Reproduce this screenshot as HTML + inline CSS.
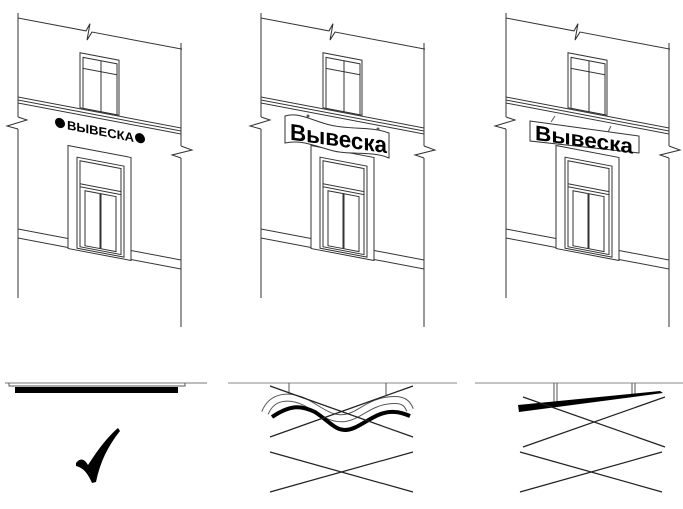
<!DOCTYPE html>
<html><head><meta charset="utf-8"><style>
html,body{margin:0;padding:0;background:#fff;width:683px;height:509px;overflow:hidden}
svg{display:block}
text{font-family:"Liberation Sans","DejaVu Sans",sans-serif}
</style></head><body>
<svg width="683" height="509" viewBox="0 0 683 509" xmlns="http://www.w3.org/2000/svg">
<defs>
<g id="bld" fill="none" stroke="#333" stroke-width="1">
  <line x1="18" y1="13" x2="18" y2="117"/>
  <polyline points="18,117 27,120 7,126 18,129"/>
  <line x1="18" y1="129" x2="18" y2="298"/>
  <line x1="181" y1="43" x2="181" y2="146"/>
  <polyline points="181,146 192,150 172,155 181,158"/>
  <line x1="181" y1="158" x2="181" y2="327"/>
  <g transform="matrix(1,0.19,0,1,0,-3.42)">
    <polyline points="18,18 86,18 90,10 87,27 92,18 182,18"/>
    <rect x="80" y="41" width="39" height="55"/>
    <rect x="83" y="45" width="34" height="51"/>
    <line x1="101" y1="45" x2="101" y2="96"/>
    <line x1="83" y1="56" x2="117" y2="56"/>
    <line x1="18" y1="97" x2="181" y2="97"/>
    <line x1="18" y1="100" x2="181" y2="100"/>
    <line x1="18" y1="103" x2="181" y2="103"/>
    <rect x="68" y="136" width="63" height="103"/>
    <rect x="77" y="146" width="47" height="91"/>
    <rect x="80" y="149" width="41" height="86"/>
    <line x1="80" y1="172" x2="121" y2="172"/>
    <line x1="80" y1="175" x2="121" y2="175"/>
    <rect x="85" y="178" width="15" height="55"/>
    <rect x="101" y="178" width="15" height="55"/>
    <line x1="18" y1="229" x2="68" y2="229"/>
    <line x1="18" y1="238" x2="68" y2="238"/>
    <line x1="131" y1="229" x2="181" y2="229"/>
    <line x1="131" y1="238" x2="181" y2="238"/>
  </g>
</g>
</defs>
<use href="#bld"/>
<use href="#bld" x="243"/>
<use href="#bld" x="488"/>

<!-- sign 1 -->
<g transform="matrix(1,0.19,0,1,0,-3.42)">
  <circle cx="60" cy="115" r="5" fill="#000"/>
  <circle cx="140" cy="115" r="5" fill="#000"/>
  <rect x="66" y="108" width="68" height="14" fill="#fff"/>
  <text x="67" y="120" font-size="12.5" font-weight="bold" textLength="67" lengthAdjust="spacingAndGlyphs" fill="#000">ВЫВЕСКА</text>
</g>

<!-- sign 2 -->
<path d="M285,116 C300,112 310,120 330,125 C350,130 370,126 389,133 L389,158 C370,150 350,156 330,150 C310,144 300,140 285,143 Z" fill="#fff" stroke="#333"/>
<circle cx="308" cy="116" r="1.5" fill="#555"/>
<circle cx="378" cy="129" r="1.5" fill="#555"/>
<g transform="matrix(1,0.14,0,1,0,-41)">
  <text x="290" y="140" font-size="23" font-weight="bold" textLength="97" lengthAdjust="spacingAndGlyphs" fill="#000">Вывеска</text>
</g>

<!-- sign 3 -->
<line x1="551" y1="122" x2="555" y2="116" stroke="#555"/>
<line x1="608" y1="132" x2="611" y2="126" stroke="#555"/>
<polygon points="530,121 639,136 639,153 530,141" fill="#fff" stroke="#333"/>
<g transform="matrix(1,0.14,0,1,0,-74)">
  <text x="535" y="139" font-size="21" font-weight="bold" textLength="98" lengthAdjust="spacingAndGlyphs" fill="#000">Вывеска</text>
</g>

<!-- bottom panel 1 -->
<line x1="5" y1="383" x2="207" y2="383" stroke="#777"/>
<polyline points="9,383 9,386 185,386 185,383" fill="none" stroke="#555"/>
<rect x="15" y="387" width="163" height="6" fill="#000"/>
<path d="M76,463 C80,458 84,458 88,465 C94,456 104,440 118,428 L120,431 C108,446 100,462 96,482 L92,483 C88,474 84,468 76,466 Z" fill="#000"/>

<!-- bottom panel 2 -->
<line x1="228" y1="383" x2="457" y2="383" stroke="#888"/>
<line x1="289" y1="383" x2="289" y2="395" stroke="#555"/>
<line x1="386" y1="383" x2="386" y2="395" stroke="#555"/>
<path d="M265,413 C272,395 290,395 305,402 C320,410 330,420 345,418 C360,416 370,400 395,400 C405,400 408,405 410,410" fill="none" stroke="#555" stroke-width="8"/>
<path d="M265,413 C272,395 290,395 305,402 C320,410 330,420 345,418 C360,416 370,400 395,400 C405,400 408,405 410,410" fill="none" stroke="#fff" stroke-width="6"/>
<path d="M272,417 C290,405 300,405 315,412 C330,422 335,430 345,430 C360,430 375,410 395,412 C400,412 405,414 410,416" fill="none" stroke="#000" stroke-width="4"/>
<line x1="270" y1="386" x2="413" y2="437" stroke="#222" stroke-width="1.2"/>
<line x1="270" y1="437" x2="413" y2="386" stroke="#222" stroke-width="1.2"/>
<line x1="270" y1="452" x2="413" y2="492" stroke="#222" stroke-width="1.2"/>
<line x1="270" y1="492" x2="413" y2="452" stroke="#222" stroke-width="1.2"/>

<!-- bottom panel 3 -->
<line x1="475" y1="383" x2="683" y2="383" stroke="#888"/>
<polyline points="554,383 554,405 557,405 557,383" fill="none" stroke="#555"/>
<polyline points="632,383 632,395 635,395 635,383" fill="none" stroke="#555"/>
<polygon points="518,405 660,391 663,393 519,412" fill="#000"/>
<line x1="523" y1="397" x2="665" y2="447" stroke="#222" stroke-width="1.2"/>
<line x1="523" y1="447" x2="665" y2="397" stroke="#222" stroke-width="1.2"/>
<line x1="520" y1="452" x2="662" y2="492" stroke="#222" stroke-width="1.2"/>
<line x1="520" y1="492" x2="662" y2="452" stroke="#222" stroke-width="1.2"/>
</svg>
</body></html>
